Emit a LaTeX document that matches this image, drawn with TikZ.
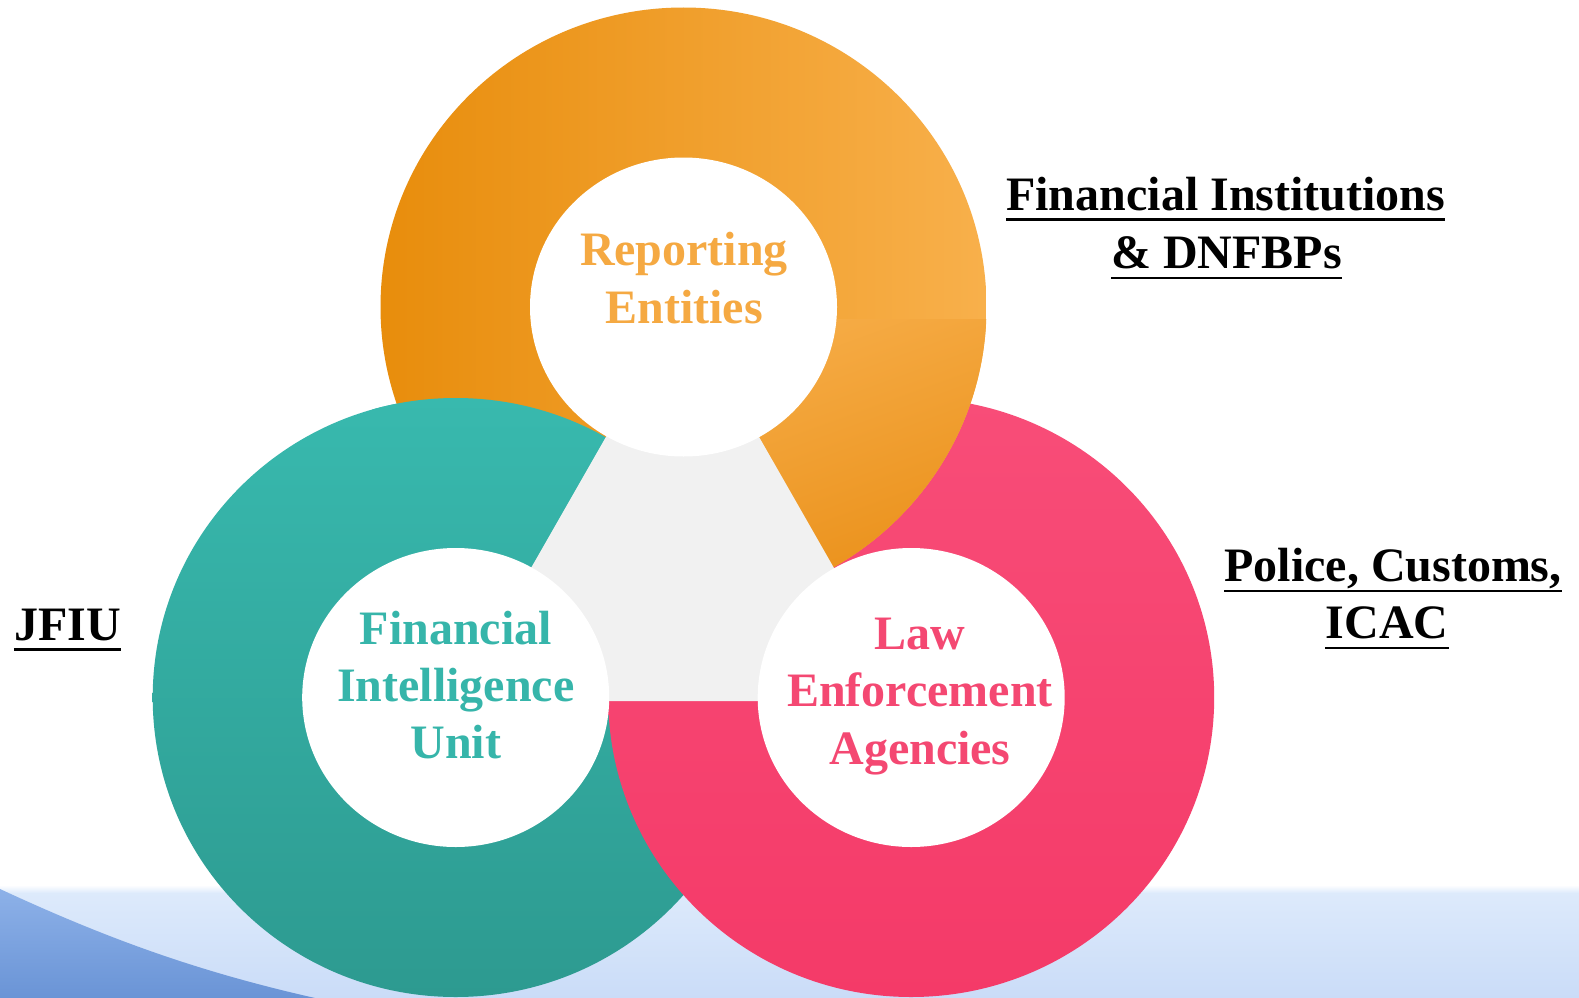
\documentclass[tikz,border=0pt]{standalone}
\usepackage{fontspec}
\setmainfont{Liberation Serif}
\definecolor{bandtop}{HTML}{DDEAFB}
\definecolor{bandbot}{HTML}{CADCF8}
\definecolor{swA}{HTML}{8DB1E8}
\definecolor{swB}{HTML}{6A94D6}
\definecolor{tealtop}{HTML}{38B9AE}
\definecolor{tealbot}{HTML}{2D9A90}
\definecolor{pinktop}{HTML}{F84D78}
\definecolor{pinkbot}{HTML}{F43A68}
\definecolor{orL}{HTML}{E88D0C}
\definecolor{orR}{HTML}{F8B04B}
\definecolor{orQ}{HTML}{F6AC46}
\definecolor{orD}{HTML}{E98E16}
\definecolor{trigray}{HTML}{F1F1F1}
\definecolor{txtor}{HTML}{F5A942}
\definecolor{txtteal}{HTML}{36B5AA}
\definecolor{txtpink}{HTML}{F44872}
\tikzset{
  bigtxt/.style={inner sep=0pt, anchor=base, font=\fontsize{48}{58}\selectfont\bfseries},
  uline/.style={line width=2.5pt, black},
  outerT/.style={x radius=303pt, y radius=299.5pt},
  innerT/.style={x radius=153.5pt, y radius=149.5pt},
}
\begin{document}
\begin{tikzpicture}[x=1pt,y=-1pt]
\useasboundingbox (0,0) rectangle (1579,998);
\fill[white] (0,0) rectangle (1579,998);
% bottom band
\shade[top color=bandtop, bottom color=bandbot] (0,892) rectangle (1579,998);
\shade[top color=white, bottom color=bandtop] (0,885) rectangle (1579,893);
\shade[top color=swA, bottom color=swB] (0,889) .. controls (110,940) and (200,972) .. (315,998) -- (0,998) -- cycle;
% centres
\coordinate (tc) at (455.7,697.5);
\coordinate (pc) at (911.2,697.5);
\coordinate (oc) at (683.5,307);
% rings
\shade[top color=tealtop, bottom color=tealbot] (tc) ellipse [outerT];
\shade[top color=pinktop, bottom color=pinkbot] (pc) ellipse [outerT];
\shade[left color=orL, right color=orR] (oc) ellipse [outerT];
\begin{scope}
  \clip (oc) ellipse [outerT];
  \shade[top color=orQ, bottom color=orD, shading angle=20] (683.5,319) rectangle (1000,612);
\end{scope}
\begin{scope}
  \clip (372,300) rectangle (683.5,650);
  \shade[top color=tealtop, bottom color=tealbot] (tc) ellipse [outerT];
\end{scope}
% central triangle
\fill[trigray] (682.5,303) -- (455,701) -- (910,701) -- cycle;
% inner discs
\fill[white] (oc) ellipse [innerT];
\fill[white] (tc) ellipse [innerT];
\fill[white] (pc) ellipse [innerT];
% ring texts
\node[bigtxt, text=txtor] (re1) at (684,265.7) {Reporting};
\node[bigtxt, text=txtor] (re2) at (684,323.3) {Entities};
\node[bigtxt, text=txtteal] (fi1) at (455.8,644.3) {Financial};
\node[bigtxt, text=txtteal] (fi2) at (455.8,701) {Intelligence};
\node[bigtxt, text=txtteal] (fi3) at (455.8,758.3) {Unit};
\node[bigtxt, text=txtpink] (le1) at (920,649) {Law};
\node[bigtxt, text=txtpink] (le2) at (920,706.5) {Enforcement};
\node[bigtxt, text=txtpink] (le3) at (920,764) {Agencies};
% side labels
\node[bigtxt] (l1) at (1225.7,210) {Financial Institutions};
\node[bigtxt] (l2) at (1226.6,268.3) {\& DNFBPs};
\node[bigtxt] (l3) at (1393,581.7) {Police, Customs,};
\node[bigtxt] (l4) at (1387,638.3) {ICAC};
\node[bigtxt] (l5) at (67.4,640) {JFIU};
\foreach \n in {l1,l2,l3,l4,l5}
  \draw[uline] ([yshift=-9.5pt]\n.base west) -- ([yshift=-9.5pt]\n.base east);
\end{tikzpicture}
\end{document}
